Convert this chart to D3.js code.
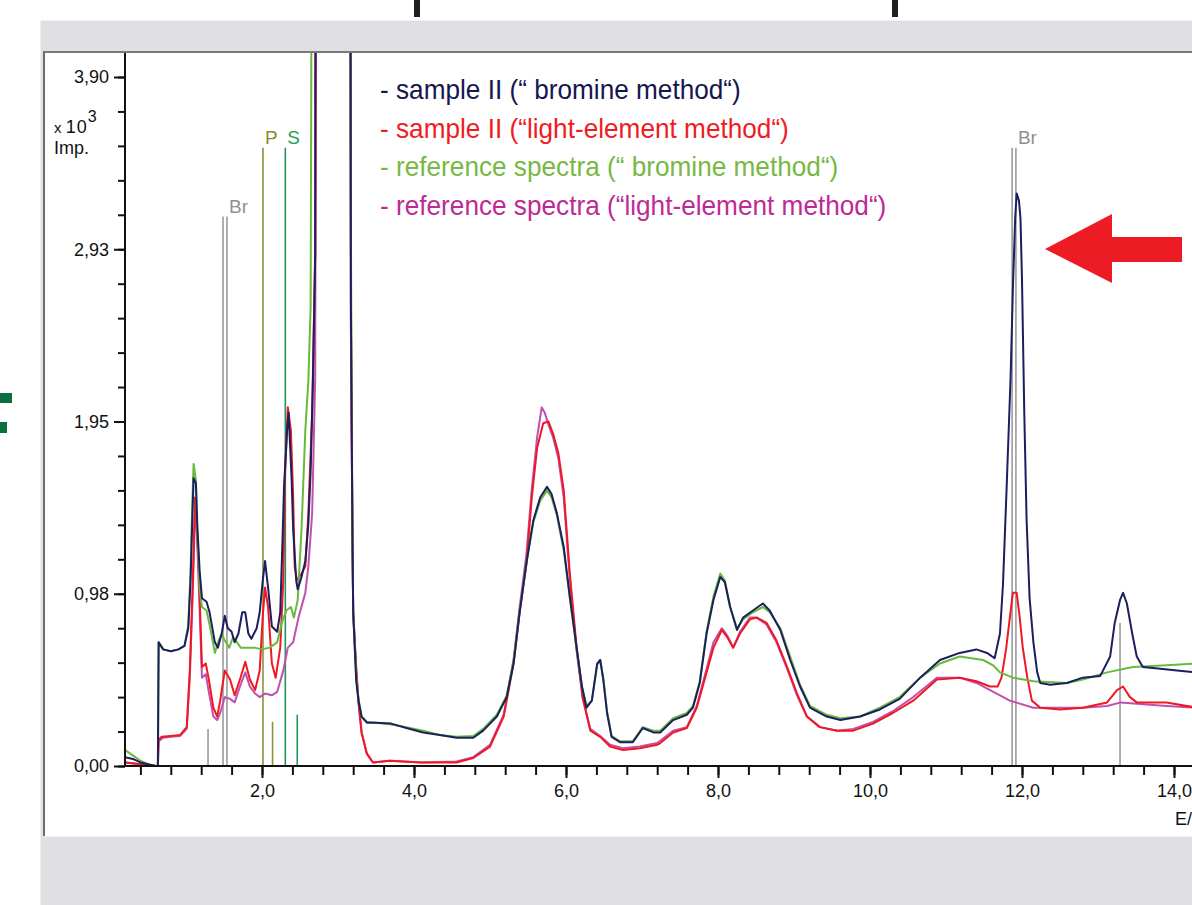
<!DOCTYPE html>
<html>
<head>
<meta charset="utf-8">
<script src="https://cdn.jsdelivr.net/npm/d3@7"></script>
<style>
  body { margin: 0; background: #fff; }
  svg { display: block; }
  .tick text { font-family: "Liberation Sans", Arial, sans-serif; font-size: 18px; fill: #111; }
</style>
</head>
<body>
<div id="container"></div>
<script>
// energy in keV, counts in 10^3 Imp. : [energy, value]
const sampleBromine = [
  [0.20,0.05],[0.30,0.04],[0.40,0.02],[0.50,0.01],[0.60,0.0],[0.63,0.0],[0.64,0.70],[0.70,0.66],[0.80,0.65],[0.90,0.66],
  [0.98,0.68],[1.03,0.78],[1.06,1.05],[1.08,1.35],[1.10,1.63],[1.13,1.60],[1.15,1.35],[1.18,1.10],[1.21,0.95],[1.27,0.93],
  [1.31,0.87],[1.38,0.70],[1.42,0.67],[1.47,0.75],[1.51,0.85],[1.55,0.78],[1.60,0.76],[1.64,0.70],[1.69,0.75],[1.74,0.87],
  [1.78,0.87],[1.82,0.75],[1.86,0.72],[1.93,0.78],[1.97,0.87],[2.01,1.05],[2.04,1.16],[2.08,1.01],[2.13,0.79],[2.20,0.76],
  [2.24,0.87],[2.27,1.28],[2.29,1.58],[2.33,1.90],[2.35,2.00],[2.37,1.81],[2.39,1.62],[2.41,1.34],[2.45,1.05],[2.47,1.00],
  [2.52,1.07],[2.57,1.16],[2.61,1.37],[2.64,1.67],[2.67,2.18],[2.70,2.90],[2.72,9.0],[3.15,9.0],[3.17,2.6],[3.19,1.3],
  [3.20,0.87],[3.24,0.48],[3.27,0.37],[3.31,0.28],[3.38,0.245],[3.50,0.245],[3.70,0.24],[3.90,0.215],[4.12,0.19],[4.34,0.175],
  [4.56,0.16],[4.78,0.16],[4.91,0.20],[5.09,0.28],[5.22,0.39],[5.31,0.58],[5.39,0.87],[5.48,1.15],[5.57,1.39],[5.66,1.52],
  [5.75,1.58],[5.81,1.54],[5.88,1.43],[5.97,1.24],[6.05,0.96],[6.14,0.67],[6.21,0.45],[6.27,0.33],[6.34,0.37],[6.41,0.58],
  [6.45,0.60],[6.49,0.49],[6.54,0.30],[6.60,0.165],[6.71,0.135],[6.88,0.135],[7.01,0.215],[7.15,0.19],[7.24,0.19],[7.41,0.26],
  [7.59,0.29],[7.67,0.33],[7.76,0.47],[7.85,0.75],[7.94,0.94],[8.03,1.07],[8.09,1.04],[8.16,0.90],[8.25,0.77],[8.33,0.84],
  [8.46,0.88],[8.59,0.92],[8.68,0.88],[8.82,0.77],[8.95,0.60],[9.08,0.45],[9.21,0.33],[9.43,0.28],[9.61,0.26],[9.87,0.28],
  [10.13,0.32],[10.39,0.38],[10.66,0.50],[10.92,0.60],[11.18,0.64],[11.40,0.66],[11.54,0.64],[11.64,0.61],[11.71,0.75],[11.75,1.03],
  [11.80,1.60],[11.85,2.20],[11.88,2.70],[11.91,3.10],[11.93,3.24],[11.96,3.20],[11.98,3.10],[12.00,2.75],[12.03,2.00],[12.06,1.40],
  [12.10,0.95],[12.15,0.70],[12.20,0.53],[12.24,0.47],[12.37,0.46],[12.59,0.47],[12.80,0.50],[13.03,0.51],[13.16,0.62],[13.22,0.81],
  [13.29,0.94],[13.33,0.98],[13.38,0.92],[13.45,0.75],[13.51,0.62],[13.59,0.56],[13.82,0.55],[14.04,0.54],[14.30,0.53]
];

const sampleLightElement = [
  [0.20,0.02],[0.40,0.01],[0.60,0.0],[0.63,0.0],[0.64,0.15],[0.68,0.165],[0.80,0.17],[0.92,0.175],[1.01,0.22],[1.05,0.54],
  [1.09,1.05],[1.12,1.52],[1.14,1.39],[1.17,1.09],[1.21,0.56],[1.26,0.58],[1.30,0.49],[1.36,0.33],[1.41,0.28],[1.45,0.37],
  [1.51,0.54],[1.58,0.49],[1.64,0.40],[1.71,0.49],[1.78,0.59],[1.84,0.49],[1.91,0.43],[1.97,0.54],[2.01,0.85],[2.04,1.01],
  [2.08,0.90],[2.13,0.58],[2.18,0.50],[2.24,0.67],[2.28,1.05],[2.30,1.62],[2.34,2.03],[2.38,1.90],[2.41,1.52],[2.43,1.13],
  [2.46,1.05],[2.52,1.09],[2.57,1.13],[2.61,1.43],[2.66,2.00],[2.70,2.90],[2.72,9.0],[3.15,9.0],[3.17,2.5],[3.19,1.3],
  [3.20,0.87],[3.24,0.55],[3.27,0.36],[3.31,0.19],[3.38,0.07],[3.46,0.02],[3.68,0.03],[4.10,0.02],[4.56,0.02],[4.78,0.045],
  [5.00,0.11],[5.18,0.28],[5.31,0.58],[5.39,0.87],[5.48,1.15],[5.55,1.52],[5.62,1.80],[5.70,1.94],[5.77,1.95],[5.83,1.88],
  [5.90,1.77],[5.97,1.56],[6.05,1.09],[6.14,0.67],[6.22,0.39],[6.32,0.20],[6.45,0.165],[6.58,0.11],[6.75,0.09],[6.97,0.10],
  [7.20,0.12],[7.24,0.13],[7.41,0.19],[7.59,0.215],[7.72,0.33],[7.85,0.53],[7.94,0.67],[8.05,0.77],[8.12,0.73],[8.20,0.67],
  [8.29,0.75],[8.42,0.83],[8.51,0.84],[8.64,0.81],[8.77,0.71],[8.91,0.56],[9.04,0.41],[9.17,0.28],[9.34,0.22],[9.57,0.20],
  [9.78,0.20],[10.04,0.24],[10.30,0.30],[10.57,0.37],[10.88,0.49],[11.18,0.50],[11.40,0.48],[11.58,0.45],[11.68,0.45],[11.73,0.50],
  [11.79,0.66],[11.84,0.84],[11.88,0.98],[11.93,0.98],[11.97,0.84],[12.01,0.67],[12.07,0.50],[12.13,0.37],[12.24,0.33],[12.50,0.32],
  [12.80,0.33],[13.12,0.36],[13.25,0.43],[13.33,0.45],[13.42,0.39],[13.51,0.36],[13.90,0.36],[14.30,0.33]
];

const referenceBromine = [
  [0.20,0.09],[0.30,0.06],[0.40,0.03],[0.50,0.01],[0.60,0.0],[0.63,0.0],[0.64,0.70],[0.70,0.66],[0.80,0.65],[0.90,0.66],
  [0.98,0.68],[1.03,0.80],[1.06,1.10],[1.08,1.45],[1.10,1.71],[1.13,1.62],[1.15,1.30],[1.18,1.00],[1.21,0.90],[1.27,0.88],
  [1.31,0.80],[1.38,0.64],[1.42,0.70],[1.47,0.75],[1.51,0.71],[1.57,0.67],[1.62,0.73],[1.67,0.70],[1.72,0.67],[1.80,0.67],
  [1.90,0.67],[2.00,0.66],[2.10,0.67],[2.20,0.70],[2.26,0.81],[2.32,0.88],[2.38,0.90],[2.42,0.84],[2.47,0.94],[2.52,1.34],
  [2.57,1.90],[2.61,2.18],[2.64,2.60],[2.68,9.0],[3.15,9.0],[3.17,3.0],[3.19,1.3],[3.20,0.87],[3.24,0.50],[3.27,0.38],
  [3.31,0.28],[3.38,0.25],[3.50,0.245],[3.70,0.235],[3.90,0.22],[4.12,0.20],[4.34,0.175],[4.56,0.165],[4.78,0.17],[4.91,0.21],
  [5.09,0.29],[5.22,0.40],[5.31,0.60],[5.39,0.88],[5.48,1.15],[5.57,1.38],[5.66,1.50],[5.75,1.56],[5.81,1.52],[5.88,1.42],
  [5.97,1.22],[6.05,0.95],[6.14,0.66],[6.21,0.45],[6.27,0.34],[6.34,0.37],[6.41,0.57],[6.45,0.60],[6.49,0.50],[6.54,0.31],
  [6.60,0.17],[6.71,0.14],[6.88,0.14],[7.01,0.22],[7.15,0.20],[7.24,0.20],[7.41,0.27],[7.59,0.30],[7.67,0.34],[7.76,0.48],
  [7.85,0.76],[7.94,0.96],[8.03,1.09],[8.09,1.05],[8.16,0.90],[8.25,0.78],[8.33,0.83],[8.46,0.87],[8.59,0.90],[8.68,0.87],
  [8.82,0.78],[8.95,0.62],[9.08,0.46],[9.21,0.34],[9.43,0.29],[9.61,0.27],[9.87,0.28],[10.13,0.33],[10.39,0.39],[10.66,0.50],
  [10.92,0.58],[11.18,0.62],[11.49,0.60],[11.62,0.57],[11.71,0.53],[11.88,0.50],[12.15,0.48],[12.59,0.47],[12.80,0.49],[13.12,0.53],
  [13.46,0.56],[13.90,0.57],[14.30,0.58]
];

const referenceLightElement = [
  [0.20,0.02],[0.40,0.01],[0.60,0.0],[0.63,0.0],[0.64,0.14],[0.70,0.16],[0.80,0.165],[0.92,0.17],[1.01,0.21],[1.05,0.50],
  [1.09,1.00],[1.12,1.45],[1.14,1.35],[1.17,1.00],[1.21,0.50],[1.26,0.52],[1.30,0.42],[1.36,0.28],[1.41,0.26],[1.45,0.30],
  [1.51,0.39],[1.58,0.38],[1.64,0.36],[1.71,0.45],[1.78,0.53],[1.84,0.45],[1.91,0.41],[1.97,0.39],[2.04,0.41],[2.13,0.40],
  [2.20,0.42],[2.28,0.54],[2.34,0.67],[2.41,0.70],[2.48,0.84],[2.57,0.98],[2.61,1.13],[2.66,1.43],[2.70,2.20],[2.73,9.0],
  [3.15,9.0],[3.17,2.5],[3.19,1.3],[3.20,0.87],[3.24,0.55],[3.27,0.36],[3.31,0.19],[3.38,0.07],[3.46,0.02],[3.68,0.03],
  [4.10,0.02],[4.56,0.025],[4.78,0.05],[5.00,0.12],[5.18,0.29],[5.31,0.60],[5.39,0.90],[5.48,1.20],[5.55,1.57],[5.62,1.86],
  [5.68,2.03],[5.72,2.00],[5.77,1.93],[5.83,1.86],[5.90,1.74],[5.97,1.52],[6.05,1.06],[6.14,0.65],[6.22,0.38],[6.32,0.21],
  [6.45,0.17],[6.58,0.12],[6.75,0.10],[6.97,0.11],[7.20,0.13],[7.41,0.20],[7.59,0.22],[7.72,0.34],[7.85,0.55],[7.94,0.70],
  [8.05,0.78],[8.12,0.74],[8.20,0.67],[8.29,0.76],[8.42,0.84],[8.51,0.84],[8.64,0.80],[8.77,0.70],[8.91,0.55],[9.04,0.40],
  [9.17,0.28],[9.34,0.22],[9.57,0.20],[9.78,0.21],[10.04,0.25],[10.30,0.31],[10.57,0.39],[10.88,0.50],[11.18,0.50],[11.40,0.47],
  [11.58,0.43],[11.84,0.37],[12.15,0.33],[12.50,0.33],[12.80,0.33],[13.12,0.34],[13.30,0.36],[13.60,0.35],[13.90,0.34],[14.30,0.33]
];

// element marker lines (keV, height in 10^3 Imp.)
const markerEnergy = [1.29, 1.487, 1.539, 2.013, 2.139, 2.307, 2.464, 11.87, 11.92, 13.29];
const markerHeight = [0.21, 3.11, 3.11, 3.50, 0.25, 3.50, 0.29, 3.50, 3.50, 0.81];
const markerElement = ["Br", "Br", "Br", "P", "P", "S", "S", "Br", "Br", "Br"];
const markerLabelText = ["", "", "Br", "P", "", "S", "", "", "Br", ""];

const elementColors = { Br: "#9b9b9b", P: "#8e8e3e", S: "#21965a" };
const elementTextColors = { Br: "#8f8f8f", P: "#8b8b2e", S: "#2a9c57" };

const legendLabels = [
  "- sample II (\u201C bromine method\u201C)",
  "- sample II (\u201Clight-element method\u201C)",
  "- reference spectra (\u201C bromine method\u201C)",
  "- reference spectra (\u201Clight-element method\u201C)"
];
const legendColors = ["#16164f", "#ee1c24", "#78b844", "#bd2a95"];

const xMajorTicks = [2, 4, 6, 8, 10, 12, 14];
const xMajorLabels = ["2,0", "4,0", "6,0", "8,0", "10,0", "12,0", "14,0"];
const yMajorTicks = [0, 0.975, 1.95, 2.925, 3.9];
const yMajorLabels = ["0,00", "0,98", "1,95", "2,93", "3,90"];

const width = 1192, height = 905;
const svg = d3.select("#container").append("svg")
  .attr("width", width)
  .attr("height", height);

// window frame
svg.append("rect").attr("x", 40).attr("y", 20).attr("width", width - 40).attr("height", height - 20).attr("fill", "#dfdfe4");
svg.append("line").attr("x1", 40).attr("x2", width).attr("y1", 20.5).attr("y2", 20.5).attr("stroke", "#f1f1ea");
svg.append("line").attr("x1", 40.5).attr("x2", 40.5).attr("y1", 20).attr("y2", height).attr("stroke", "#f1f1ea");
svg.append("rect").attr("x", 45).attr("y", 53).attr("width", width - 45).attr("height", 783).attr("fill", "#fff");
svg.append("line").attr("x1", 43).attr("x2", width).attr("y1", 52).attr("y2", 52).attr("stroke", "#7a7a7a").attr("stroke-width", 2);
svg.append("line").attr("x1", 44).attr("x2", 44).attr("y1", 52).attr("y2", 836).attr("stroke", "#6e6e6e").attr("stroke-width", 2);
svg.append("line").attr("x1", 45).attr("x2", width).attr("y1", 836.5).attr("y2", 836.5).attr("stroke", "#f3f3ec");

// slide fragments
svg.append("rect").attr("x", 414).attr("y", 0).attr("width", 6).attr("height", 17).attr("fill", "#231f20");
svg.append("rect").attr("x", 892).attr("y", 0).attr("width", 6).attr("height", 17).attr("fill", "#231f20");
svg.append("rect").attr("x", 0).attr("y", 393).attr("width", 12).attr("height", 10).attr("fill", "#0b6e3f");
svg.append("rect").attr("x", 0).attr("y", 422).attr("width", 7).attr("height", 11).attr("fill", "#0b6e3f");

const x = d3.scaleLinear().domain([0, 14]).range([110, 1174]);
const y = d3.scaleLinear().domain([0, 3.9]).range([766, 77]);

const plotLeft = 125, plotTop = 53;
svg.append("clipPath").attr("id", "plot-clip")
  .append("rect").attr("x", plotLeft).attr("y", plotTop).attr("width", width - plotLeft).attr("height", 766 - plotTop);

const plot = svg.append("g").attr("clip-path", "url(#plot-clip)");

// element lines
const markers = markerEnergy.map(function(e, i) {
  return { e: e, h: markerHeight[i], el: markerElement[i], label: markerLabelText[i] };
});
plot.selectAll(".marker")
  .data(markers)
  .enter()
  .append("line")
  .attr("class", "marker")
  .attr("x1", d => x(d.e)).attr("x2", d => x(d.e))
  .attr("y1", y(0)).attr("y2", d => y(d.h))
  .attr("stroke", d => elementColors[d.el])
  .attr("stroke-width", 1.6);

svg.selectAll(".marker-label")
  .data(markers.filter(d => d.label))
  .enter()
  .append("text")
  .attr("class", "marker-label")
  .attr("x", d => x(d.e) + 2)
  .attr("y", d => y(d.h) - 4)
  .attr("font-family", "Liberation Sans, Arial, sans-serif")
  .attr("font-size", 19)
  .attr("fill", d => elementTextColors[d.el])
  .text(d => d.label);

// spectra
const line = d3.line()
  .x(d => x(d[0]))
  .y(d => y(d[1]));

const spectra = [
  { data: referenceLightElement, color: "#c24fae" },
  { data: sampleLightElement, color: "#f01822" },
  { data: referenceBromine, color: "#68bb3a" },
  { data: sampleBromine, color: "#1c1f5f" }
];
plot.selectAll(".spectrum")
  .data(spectra)
  .enter()
  .append("path")
  .attr("class", "spectrum")
  .attr("fill", "none")
  .attr("stroke", d => d.color)
  .attr("stroke-width", 2)
  .attr("stroke-linejoin", "round")
  .attr("d", d => line(d.data));

// axes
const yMinor = d3.axisLeft(y).tickValues(d3.range(0, 3.91, 0.195)).tickSize(7).tickFormat("");
const yMajor = d3.axisLeft(y).tickValues(yMajorTicks).tickSize(11).tickPadding(5)
  .tickFormat((d, i) => yMajorLabels[i]);
const xMinor = d3.axisBottom(x).tickValues(d3.range(0.4, 14.5, 0.4)).tickSize(9).tickFormat("");
const xMajor = d3.axisBottom(x).tickValues(xMajorTicks).tickSize(12).tickPadding(6)
  .tickFormat((d, i) => xMajorLabels[i]);

function styleAxis(g) {
  g.select(".domain").remove();
  g.selectAll(".tick line").attr("stroke", "#111").attr("stroke-width", 2);
}
svg.append("g").attr("transform", `translate(${plotLeft},0)`).call(yMinor).call(styleAxis);
svg.append("g").attr("transform", `translate(${plotLeft},0)`).call(yMajor).call(styleAxis);
svg.append("g").attr("transform", "translate(0,766)").call(xMinor).call(styleAxis);
svg.append("g").attr("transform", "translate(0,766)").call(xMajor).call(styleAxis);

svg.append("line").attr("x1", plotLeft).attr("x2", plotLeft).attr("y1", plotTop).attr("y2", 767)
  .attr("stroke", "#111").attr("stroke-width", 2);
svg.append("line").attr("x1", plotLeft - 1).attr("x2", width).attr("y1", 766).attr("y2", 766)
  .attr("stroke", "#111").attr("stroke-width", 2);

// axis titles
const yTitle = svg.append("text").attr("x", 54).attr("y", 133)
  .attr("font-family", "Liberation Sans, Arial, sans-serif").attr("font-size", 18).attr("fill", "#111");
yTitle.append("tspan").attr("font-size", 15).text("x ");
yTitle.append("tspan").attr("letter-spacing", 1).text("10");
yTitle.append("tspan").attr("dy", -11).attr("font-size", 16).text("3");
svg.append("text").attr("x", 54).attr("y", 154)
  .attr("font-family", "Liberation Sans, Arial, sans-serif").attr("font-size", 18).attr("fill", "#111")
  .text("Imp.");
svg.append("text").attr("x", 1175).attr("y", 825)
  .attr("font-family", "Liberation Sans, Arial, sans-serif").attr("font-size", 18).attr("fill", "#111")
  .text("E/keV");

// legend (condensed face, as in the original)
svg.selectAll(".legend")
  .data(legendLabels)
  .enter()
  .append("text")
  .attr("class", "legend")
  .attr("x", 380)
  .attr("y", (d, i) => 89 + i * 38.5)
  .attr("dy", "0.36em")
  .attr("font-family", "Liberation Sans, Arial, sans-serif")
  .attr("font-size", 28)
  .attr("fill", (d, i) => legendColors[i])
  .text(d => d)
  .each(function() {
    const w = this.getComputedTextLength();
    d3.select(this).attr("textLength", w * 0.935).attr("lengthAdjust", "spacingAndGlyphs");
  });

// red arrow pointing at the Br K-alpha peak
svg.append("polygon")
  .attr("points", "1045,249 1112,214 1112,237 1182,237 1182,262 1112,262 1112,283")
  .attr("fill", "#ed1c24");
</script>
</body>
</html>
